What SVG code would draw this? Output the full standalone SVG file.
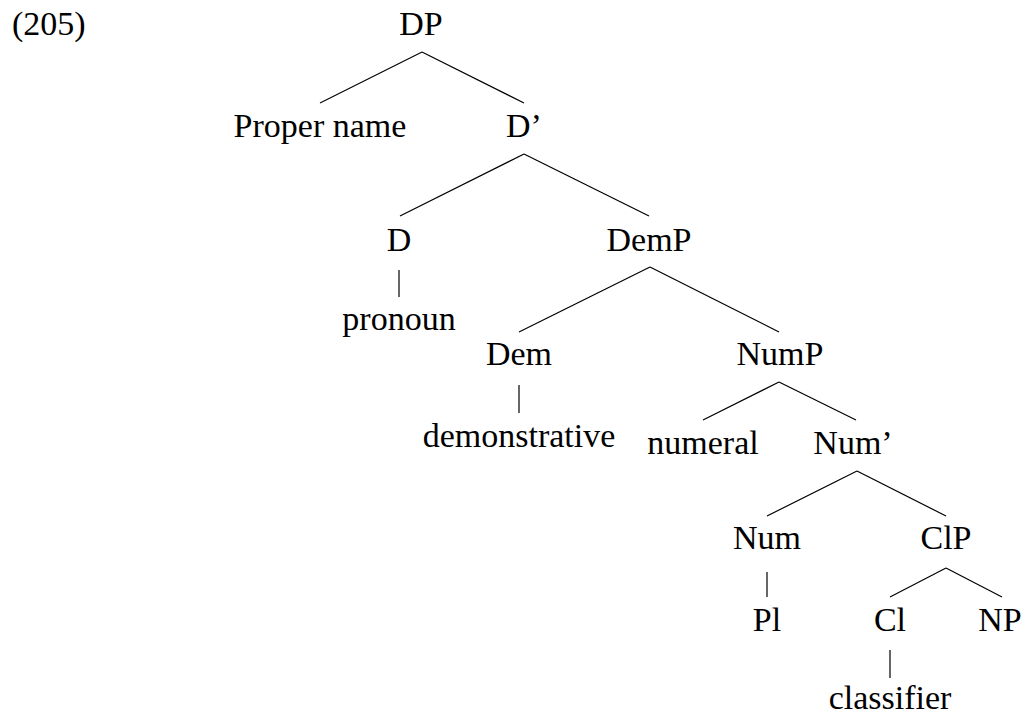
<svg xmlns="http://www.w3.org/2000/svg" width="1024" height="716" viewBox="0 0 1024 716">
<style>
.lbl { font-family: "Liberation Serif", serif; font-size: 34px; fill: #000; text-anchor: middle; }
.edges line { stroke: #000; stroke-width: 1.2; }
</style>
<rect width="1024" height="716" fill="#fff"/>
<text class="lbl" x="12" y="35" font-family="'Liberation Serif', serif" style="text-anchor:start">(205)</text>
<g class="edges" id="connectors">
<line x1="422" y1="52" x2="320" y2="103"/>
<line x1="422" y1="52" x2="524" y2="103"/>
<line x1="524" y1="154" x2="400" y2="216"/>
<line x1="524" y1="154" x2="649" y2="216"/>
<line x1="399" y1="270" x2="399" y2="297"/>
<line x1="650" y1="267" x2="519" y2="332"/>
<line x1="650" y1="267" x2="779" y2="332"/>
<line x1="519" y1="385" x2="519" y2="413"/>
<line x1="779" y1="382" x2="703" y2="420"/>
<line x1="779" y1="382" x2="856" y2="420"/>
<line x1="857" y1="471" x2="767" y2="516"/>
<line x1="857" y1="471" x2="946" y2="516"/>
<line x1="767" y1="572" x2="767" y2="597"/>
<line x1="946" y1="568" x2="890" y2="597"/>
<line x1="946" y1="568" x2="1002" y2="597"/>
<line x1="890" y1="650" x2="890" y2="678"/>
</g>
<g font-family="'Liberation Serif', serif">
<g id="n-DP"><text class="lbl" x="421" y="35">DP</text></g>
<g id="n-propername"><text class="lbl" x="320" y="137">Proper name</text></g>
<g id="n-Dbar"><text class="lbl" x="524" y="137">D’</text></g>
<g id="n-D"><text class="lbl" x="399" y="251">D</text></g>
<g id="n-DemP"><text class="lbl" x="649" y="251">DemP</text></g>
<g id="n-pronoun"><text class="lbl" x="399" y="330">pronoun</text></g>
<g id="n-Dem"><text class="lbl" x="519" y="365">Dem</text></g>
<g id="n-NumP"><text class="lbl" x="780" y="365">NumP</text></g>
<g id="n-demonstrative"><text class="lbl" x="519" y="447">demonstrative</text></g>
<g id="n-numeral"><text class="lbl" x="703" y="454">numeral</text></g>
<g id="n-Numbar"><text class="lbl" x="853" y="454">Num’</text></g>
<g id="n-Num"><text class="lbl" x="767" y="549">Num</text></g>
<g id="n-ClP"><text class="lbl" x="946" y="549">ClP</text></g>
<g id="n-Pl"><text class="lbl" x="767" y="631">Pl</text></g>
<g id="n-Cl"><text class="lbl" x="890" y="631">Cl</text></g>
<g id="n-NP"><text class="lbl" x="1000" y="631">NP</text></g>
<g id="n-classifier"><text class="lbl" x="890" y="709">classifier</text></g>
</g>
</svg>
